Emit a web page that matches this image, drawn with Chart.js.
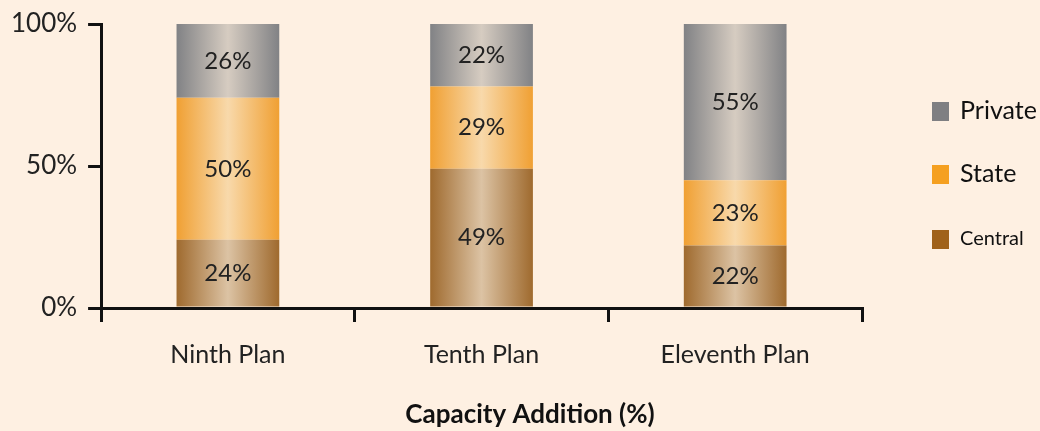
<!DOCTYPE html>
<html>
<head>
<meta charset="utf-8">
<script src="https://cdn.jsdelivr.net/npm/chart.js@4"></script>
<style>
  html, body { margin: 0; padding: 0; background: #fef0e2; }
  #wrap { width: 1040px; height: 431px; }
</style>
</head>
<body>
<div id="wrap"><canvas id="capacity"></canvas></div>
<script>
const plans = ['Ninth Plan', 'Tenth Plan', 'Eleventh Plan'];
const central = [24, 49, 22];
const state = [50, 29, 23];
const priv = [26, 22, 55];
const yTicks = [0, 50, 100];

const FONT = 'Lato, "Open Sans", sans-serif';

// edge / middle colours for the cylinder look, plus legend swatch
const shades = {
  Central: ['#9f6a2e', '#dcc3a4', '#a0621a'],
  State: ['#f0a033', '#f8d9ab', '#f5a020'],
  Private: ['#818285', '#d6ccc1', '#7f7f82']
};

function barFill(name) {
  return function(c) {
    const chart = c.chart;
    const x = chart.scales.x;
    if (!chart.chartArea || !x) return shades[name][2];
    const mid = x.getPixelForValue(c.dataIndex);
    const half = x.width / plans.length * 0.405 / 2;
    const g = chart.ctx.createLinearGradient(mid - half, 0, mid + half, 0);
    g.addColorStop(0, shades[name][0]);
    g.addColorStop(0.5, shades[name][1]);
    g.addColorStop(1, shades[name][0]);
    return g;
  };
}

const segLabels = {
  id: 'segLabels',
  afterDatasetsDraw(chart) {
    const ctx = chart.ctx;
    ctx.save();
    ctx.font = '24px ' + FONT;
    ctx.fillStyle = '#222';
    ctx.textAlign = 'center';
    ctx.textBaseline = 'middle';
    chart.data.datasets.forEach((ds, i) => {
      chart.getDatasetMeta(i).data.forEach((bar, j) => {
        ctx.fillText(ds.data[j] + '%', bar.x, (bar.y + bar.base) / 2);
      });
    });
    ctx.restore();
  }
};

const sideLegend = {
  id: 'sideLegend',
  afterDraw(chart) {
    const ctx = chart.ctx;
    const items = [
      { name: 'Private', y: 111, size: 25 },
      { name: 'State', y: 174, size: 25 },
      { name: 'Central', y: 239, size: 20 }
    ];
    ctx.save();
    ctx.textBaseline = 'middle';
    items.forEach(it => {
      ctx.fillStyle = shades[it.name][2];
      ctx.fillRect(932, it.y - 9, 17, 19);
      ctx.fillStyle = '#111';
      ctx.font = it.size + 'px ' + FONT;
      ctx.fillText(it.name, 960, it.y);
    });
    // axis caption under the categories
    ctx.font = 'bold 26px ' + FONT;
    ctx.textAlign = 'center';
    ctx.fillText('Capacity Addition (%)', 530, 415);
    ctx.restore();
  }
};

const datasets = [
  { label: 'Central', data: central },
  { label: 'State', data: state },
  { label: 'Private', data: priv }
].map(d => Object.assign(d, {
  backgroundColor: barFill(d.label),
  borderWidth: 0,
  categoryPercentage: 1,
  barPercentage: 0.405
}));

new Chart(document.getElementById('capacity'), {
  type: 'bar',
  data: { labels: plans, datasets: datasets },
  options: {
    responsive: true,
    maintainAspectRatio: false,
    animation: false,
    layout: { padding: { top: 24, right: 178, left: 0, bottom: 43 } },
    plugins: {
      legend: { display: false },
      tooltip: { enabled: false }
    },
    scales: {
      x: {
        stacked: true,
        grid: {
          offset: true,
          drawOnChartArea: false,
          color: '#111',
          lineWidth: 3,
          tickLength: 14
        },
        border: { color: '#111', width: 3 },
        ticks: { color: '#222', font: { family: FONT, size: 25 }, padding: 18 }
      },
      y: {
        stacked: true,
        min: 0,
        max: 100,
        afterBuildTicks: axis => { axis.ticks = yTicks.map(v => ({ value: v })); },
        grid: {
          drawOnChartArea: false,
          color: '#111',
          lineWidth: 3,
          tickLength: 13
        },
        border: { color: '#111', width: 3 },
        ticks: {
          color: '#222',
          font: { family: FONT, size: 26, lineHeight: 0.6 },
          padding: 11,
          callback: v => v + '%'
        }
      }
    }
  },
  plugins: [segLabels, sideLegend]
});
</script>
</body>
</html>
